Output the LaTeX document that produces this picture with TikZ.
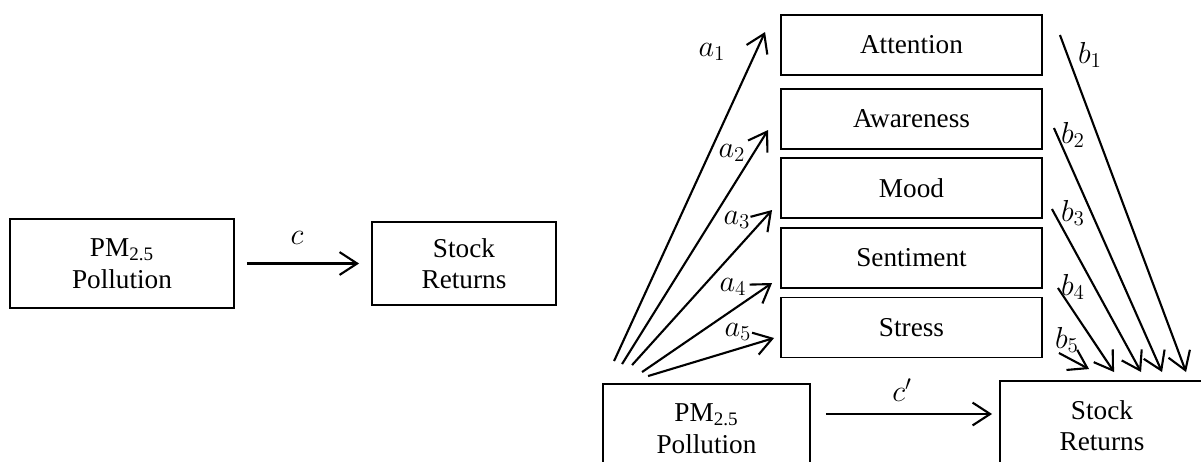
\documentclass[tikz,border=0pt]{standalone}
\usepackage{fontspec}
\setmainfont{Liberation Serif}
\usetikzlibrary{positioning, arrows.meta, calc}

\begin{document}
\begin{tikzpicture}[x=0.02cm, y=-0.02cm, font=\fontsize{15.5}{18}\selectfont,
  box/.style={draw, line width=1.1pt, align=center, inner sep=0pt},
  medbox/.style={box, minimum width=5.22cm, minimum height=1.2cm},
  endbox/.style={box, minimum height=1.78cm},
  path/.style={line width=1.2pt, -{Straight Barb[length=10pt, width=13pt, line width=1.2pt]}},
  coef/.style={inner sep=0pt, font=\fontsize{17}{20}\selectfont}]
\clip (0,0) rectangle (1201,461);
% total effect
\node[endbox, minimum width=4.48cm] (pmL) at (122,263.5) {PM\textsubscript{2.5}\\Pollution};
\node[box, minimum width=3.68cm, minimum height=1.66cm] (srL) at (464,263.5) {Stock\\Returns};
\draw[path, shorten <=0.24cm, shorten >=0.24cm] (pmL) -- (srL);
\node[coef] (c) at (297,238) {$c$};
% mediated model
\foreach \name/\txt/\y in {att/Attention/45, awa/Awareness/119, moo/Mood/188, sen/Sentiment/258, str/Stress/327.5}
  \node[medbox] (\name) at (911.5,\y) {\txt};
\node[endbox, minimum width=4.14cm] (pmR) at (706.5,428.5) {PM\textsubscript{2.5}\\Pollution};
\node[endbox, minimum width=4.08cm] (srR) at (1102,425.5) {Stock\\Returns};
\draw[path] ($(pmR.east)+(15,-14.5)$) -- ($(srR.west)+(-7,-11.5)$);
\node[coef] (cp) at (902,390) {$c'$};
% a paths
\foreach \name/\sx/\sy/\ex/\ey in {att/12/-22/-15/-13, awa/20/-19/-12/11, moo/30/-18/-8/22, sen/40/-11/-8/25, str/46/-7/-6/10.5}
  \draw[path] ($(pmR.north west)+(\sx,\sy)$) -- ($(\name.west)+(\ex,\ey)$);
% b paths
\foreach \name/\sx/\sy/\ex/\ey in {att/17/-10/187/-8, awa/11/9/163/-8, moo/9/21/142/-8, sen/15/30/115/-8, str/16/25.5/90/-11}
  \draw[path] ($(\name.east)+(\sx,\sy)$) -- ($(srR.north west)+(\ex,\ey)$);
\foreach \i/\x/\y in {1/712/52, 2/732/153, 3/737/220, 4/733/287, 5/738/332}
  \node[coef] (a\i) at (\x,\y) {$a_\i$};
\foreach \i/\x/\y in {1/1090/55, 2/1073/135, 3/1073/213, 4/1073/287, 5/1067/340}
  \node[coef] (b\i) at (\x,\y) {$b_\i$};
\end{tikzpicture}
\end{document}
